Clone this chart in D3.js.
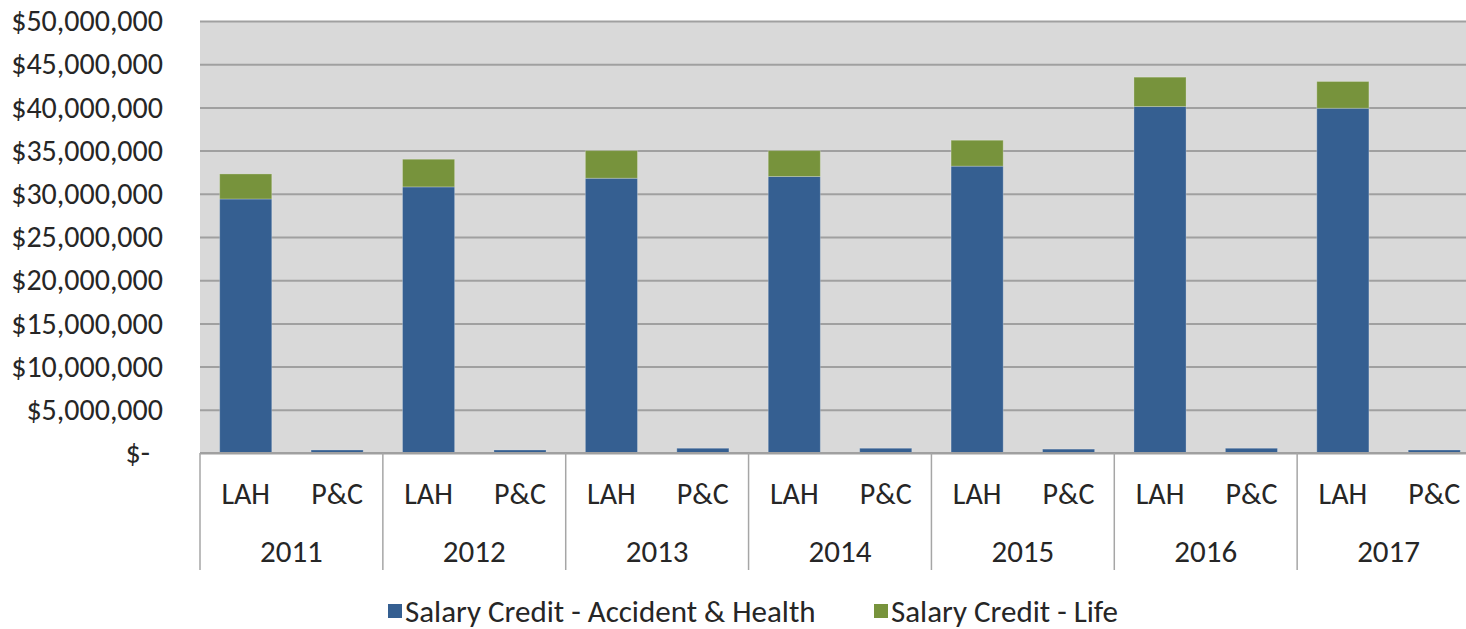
<!DOCTYPE html>
<html>
<head>
<meta charset="utf-8">
<script src="https://cdn.jsdelivr.net/npm/d3@7"></script>
<style>
  body { margin: 0; background: #fff; }
  text { font-family: "Carlito", "Liberation Sans", Arial, sans-serif; fill: #262626; }
</style>
</head>
<body>
<div id="chart"></div>
<script>
// Data
const years = ['2011', '2012', '2013', '2014', '2015', '2016', '2017'];
const lines = ['LAH', 'P&C'];
const seriesNames = ['Salary Credit - Accident & Health', 'Salary Credit - Life'];
// values per year, [LAH, P&C]
const accidentHealth = [
    [29400000, 350000], [30800000, 350000], [31800000, 550000], [32000000, 550000],
    [33200000, 450000], [40100000, 550000], [39900000, 350000]
];
const life = [
    [2900000, 0], [3200000, 0], [3200000, 0], [3000000, 0],
    [3000000, 0], [3400000, 0], [3100000, 0]
];
const yTicks = [0, 5e6, 10e6, 15e6, 20e6, 25e6, 30e6, 35e6, 40e6, 45e6, 50e6];
const colors = ['#355f91', '#77933c'];

// Dimension
let dimensions = {
    width: 1466,
    height: 629,
    left: 200,
    right: 1480,
    top: 21,
    bottom: 453,
};

const svg = d3.select('#chart')
    .append('svg')
    .attr('width', dimensions.width)
    .attr('height', dimensions.height);

// Build rows
const rows = [];
years.forEach((y, i) => {
    lines.forEach((l, j) => {
        rows.push({ year: y, line: l, ah: accidentHealth[i][j], life: life[i][j] });
    });
});

const stackData = d3.stack().keys(['ah', 'life'])(rows);

// Scales
const yScale = d3.scaleLinear()
    .domain([0, 50e6])
    .range([dimensions.bottom, dimensions.top]);

const x0 = d3.scaleBand()
    .domain(years)
    .range([dimensions.left, dimensions.right]);

const x1 = d3.scaleBand()
    .domain(lines)
    .range([0, x0.bandwidth()])
    .paddingInner(0.43)
    .paddingOuter(0.215);

// Plot background
svg.append('rect')
    .attr('x', dimensions.left)
    .attr('y', dimensions.top)
    .attr('width', dimensions.right - dimensions.left)
    .attr('height', dimensions.bottom - dimensions.top)
    .attr('fill', '#d9d9d9');

// Y axis with gridlines
const yAxis = d3.axisLeft(yScale)
    .tickValues(yTicks)
    .tickSize(-(dimensions.right - dimensions.left))
    .tickPadding(37)
    .tickFormat(d => d === 0 ? '$-' : '$' + d3.format(',')(d));

const yAxisGroup = svg.append('g')
    .attr('transform', `translate(${dimensions.left}, 0)`)
    .call(yAxis);
yAxisGroup.select('.domain').remove();
yAxisGroup.selectAll('line')
    .attr('stroke', '#a0a0a0')
    .attr('stroke-width', 2);
yAxisGroup.selectAll('text')
    .style('font-size', '30px')
    .attr('fill', '#262626')
    .attr('dx', d => d === 0 ? -13 : 0);

// Bars
const groups = svg.append('g')
    .selectAll('g')
    .data(stackData)
    .join('g')
    .attr('fill', (d, i) => colors[i]);

groups.selectAll('rect')
    .data(d => d)
    .join('rect')
    .attr('x', d => x0(d.data.year) + x1(d.data.line))
    .attr('y', d => yScale(d[1]))
    .attr('width', x1.bandwidth())
    .attr('height', d => yScale(d[0]) - yScale(d[1]))
    .attr('stroke', 'rgba(255,255,255,0.25)')
    .attr('stroke-width', 1);

// Category axis
const catAxis = svg.append('g');
catAxis.append('line')
    .attr('x1', dimensions.left).attr('x2', dimensions.right)
    .attr('y1', dimensions.bottom).attr('y2', dimensions.bottom)
    .attr('stroke', '#a0a0a0').attr('stroke-width', 2);

catAxis.selectAll('line.sep')
    .data(years)
    .join('line')
    .attr('class', 'sep')
    .attr('x1', d => x0(d)).attr('x2', d => x0(d))
    .attr('y1', dimensions.bottom).attr('y2', 570)
    .attr('stroke', '#a6a6a6').attr('stroke-width', 1.5);

catAxis.selectAll('text.line')
    .data(rows)
    .join('text')
    .attr('class', 'line')
    .attr('x', d => x0(d.year) + x1(d.line) + x1.bandwidth() / 2)
    .attr('y', 493)
    .attr('dy', '0.35em')
    .attr('text-anchor', 'middle')
    .style('font-size', '30px')
    .text(d => d.line);

catAxis.selectAll('text.year')
    .data(years)
    .join('text')
    .attr('class', 'year')
    .attr('x', d => x0(d) + x0.bandwidth() / 2)
    .attr('y', 551)
    .attr('dy', '0.35em')
    .attr('text-anchor', 'middle')
    .style('font-size', '31px')
    .text(d => d);

// Legend
const legendX = [388, 874];
const legend = svg.append('g')
    .selectAll('g')
    .data(seriesNames)
    .join('g')
    .attr('transform', (d, i) => `translate(${legendX[i]}, 611)`);

legend.append('rect')
    .attr('x', 0).attr('y', -7)
    .attr('width', 14).attr('height', 14)
    .attr('fill', (d, i) => colors[i]);

legend.append('text')
    .attr('x', 17)
    .attr('y', 0)
    .attr('dy', '0.35em')
    .style('font-size', '31px')
    .text(d => d);
</script>
</body>
</html>
